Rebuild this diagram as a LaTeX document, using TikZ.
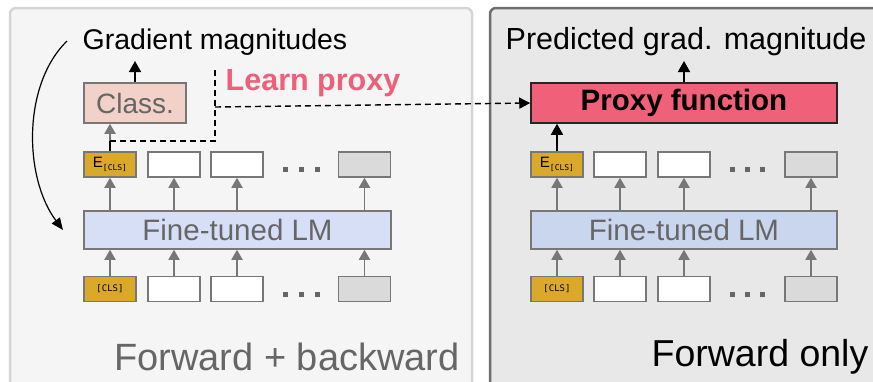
\documentclass[tikz,border=0pt]{standalone}
\usepackage{fontspec}
\setmainfont{Liberation Sans}
\newfontfamily\monof{DejaVu Sans Mono}
\usetikzlibrary{arrows.meta}
\definecolor{goldtok}{HTML}{DBA92A}
\definecolor{classfill}{HTML}{F2D1C9}
\definecolor{lmleft}{HTML}{D6DFF6}
\definecolor{lmright}{HTML}{CAD6EE}
\definecolor{proxyfill}{HTML}{F06078}
\definecolor{learnpink}{HTML}{EE5F7A}
\definecolor{txtgray}{HTML}{666666}
\definecolor{bordgray}{HTML}{777777}
\definecolor{graytok}{HTML}{DADADA}
\definecolor{leftbg}{HTML}{F5F5F5}
\definecolor{rightbg}{HTML}{E8E8E8}
\definecolor{leftbord}{HTML}{D5D5D5}
\definecolor{rightbord}{HTML}{6E6E6E}
\newcommand{\fs}[1]{\fontsize{#1}{#1}\selectfont}
\tikzset{
  tok/.style={draw=bordgray, line width=1.5pt, minimum width=52pt, minimum height=25pt, inner sep=0pt},
  whitetok/.style={tok, fill=white},
  greytok/.style={tok, fill=graytok},
  goldbox/.style={tok, fill=goldtok},
  lmbox/.style={draw=bordgray, line width=1.5pt, minimum width=307pt, minimum height=38pt, inner sep=0pt, text=txtgray, font=\fs{29.5}},
  garrow/.style={draw=bordgray, line width=1.8pt, -{Triangle[length=10pt,width=11pt]}},
  barrow/.style={draw=black, line width=1.6pt, -{Triangle[length=11pt,width=12pt]}},
  dashline/.style={draw=black, line width=1.4pt, dash pattern=on 6pt off 4pt},
  dotsq/.style={fill=txtgray, minimum width=5pt, minimum height=5pt, inner sep=0pt},
}
\begin{document}
\begin{tikzpicture}[x=1pt,y=-1pt]
\useasboundingbox (0,0) rectangle (873,381);
\clip (0,0) rectangle (873,381);
\fill[white] (0,0) rectangle (873,381);
% panels
\draw[rounded corners=6pt, draw=leftbord, line width=2.5pt, fill=leftbg] (10,8) rectangle (472,400);
\draw[rounded corners=6pt, draw=rightbord, line width=2.5pt, fill=rightbg] (490,8) rectangle (890,400);

% ---------- left panel ----------
\node (gradmag) at (215,42) {\fs{28.5}Gradient magnitudes};
\node[text=learnpink, font=\bfseries\fs{30.5}] (learn) at (313,83) {Learn proxy};
\node[draw=bordgray, line width=1.5pt, fill=classfill, minimum width=102pt, minimum height=40pt, inner sep=0pt, text=txtgray, font=\fs{28}] (class) at (135,103) {Class.};

\node[goldbox] (le0) at (110,164.5) {\fs{15}E\raisebox{-3pt}{\monof\fs{8}[CLS]}};
\node[whitetok] (le1) at (174,164.5) {};
\node[whitetok] (le2) at (237,164.5) {};
\node[greytok] (le3) at (364.5,164.5) {};
\node[dotsq] (ld1) at (285,169.5) {};
\node[dotsq] (ld2) at (301,169.5) {};
\node[dotsq] (ld3) at (317,169.5) {};

\node[lmbox, fill=lmleft] (llm) at (237.5,230) {Fine-tuned LM};

\node[goldbox] (li0) at (110,289) {\monof\fs{9}[CLS]};
\node[whitetok] (li1) at (174,289) {};
\node[whitetok] (li2) at (237,289) {};
\node[greytok] (li3) at (364.5,289) {};
\node[dotsq] (ld4) at (285,294) {};
\node[dotsq] (ld5) at (301,294) {};
\node[dotsq] (ld6) at (317,294) {};

\node[text=txtgray, font=\fs{38}] (fb) at (287,357) {Forward + backward};

% arrows left
\draw[barrow] (class.north) -- (class.north |- 0,61);
\draw[garrow] (le0.north) -- (le0.north |- class.south);
\foreach \i in {0,1,2,3} {
  \draw[garrow] (le\i.south |- llm.north) -- (le\i.south);
  \draw[garrow] (li\i.north) -- (li\i.north |- llm.south);
}
% dashed learn proxy
\coordinate (dj) at (110,141);
\coordinate (dc) at (215,141);
\coordinate (dt) at (215,67);
\coordinate (db) at (215,107);
\draw[black, line width=1.4pt] (le0.north) -- (dj);
\draw[dashline] (dj) -- (dc) -- (dt);

% curved arrow
\coordinate (cs) at (67,41);
\coordinate (ce) at (63,230);
\draw[black, line width=1.2pt, -{Triangle[length=12pt,width=10pt]}] (cs) .. controls (22,85) and (24,178) .. (ce);

% ---------- right panel ----------
\node (predmag) at (686,42) {\fs{30.5}Predicted grad. magnitude};
\node[draw=black!85, line width=1.5pt, fill=proxyfill, minimum width=306pt, minimum height=40pt, inner sep=0pt, font=\bfseries\fs{29.5}] (proxy) at (684,103) {Proxy function};

\node[goldbox] (re0) at (557,164.5) {\fs{15}E\raisebox{-3pt}{\monof\fs{8}[CLS]}};
\node[whitetok] (re1) at (620,164.5) {};
\node[whitetok] (re2) at (684,164.5) {};
\node[greytok] (re3) at (811,164.5) {};
\node[dotsq] (rd1) at (732,169.5) {};
\node[dotsq] (rd2) at (747,169.5) {};
\node[dotsq] (rd3) at (762,169.5) {};

\node[lmbox, fill=lmright, minimum width=306pt] (rlm) at (684,230) {Fine-tuned LM};

\node[goldbox] (ri0) at (557,289) {\monof\fs{9}[CLS]};
\node[whitetok] (ri1) at (620,289) {};
\node[whitetok] (ri2) at (684,289) {};
\node[greytok] (ri3) at (811,289) {};
\node[dotsq] (rd4) at (732,294) {};
\node[dotsq] (rd5) at (747,294) {};
\node[dotsq] (rd6) at (762,294) {};

\node[font=\fs{37.5}] (fo) at (760,357) {Forward only};

\draw[barrow] (proxy.north) -- (proxy.north |- 0,61);
\draw[barrow] (re0.north) -- (re0.north |- proxy.south);
\foreach \i in {0,1,2,3} {
  \draw[garrow] (re\i.south |- rlm.north) -- (re\i.south);
  \draw[garrow] (ri\i.north) -- (ri\i.north |- rlm.south);
}

\draw[dashline, -{Triangle[length=11pt,width=11pt]}] (db) -- (proxy.west);
\end{tikzpicture}
\end{document}
